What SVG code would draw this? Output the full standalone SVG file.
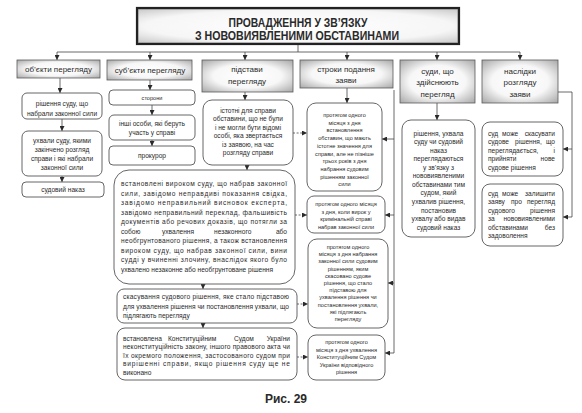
<svg xmlns="http://www.w3.org/2000/svg" width="582" height="413" viewBox="0 0 582 413">
<defs>
<radialGradient id="hg" cx="0.5" cy="0.5" r="0.75">
<stop offset="0" stop-color="#ffffff"/>
<stop offset="0.5" stop-color="#f7f7f7"/>
<stop offset="1" stop-color="#9c9c9c"/>
</radialGradient>
<radialGradient id="tg" cx="0.5" cy="0.5" r="0.8">
<stop offset="0" stop-color="#ffffff"/>
<stop offset="0.6" stop-color="#f6f6f6"/>
<stop offset="1" stop-color="#b4b4b4"/>
</radialGradient>
<marker id="ah" viewBox="0 0 6 6" refX="6" refY="3" markerWidth="5" markerHeight="5" orient="auto" markerUnits="userSpaceOnUse">
<path d="M0,0L6,3L0,6z" fill="#2a2a2a"/>
</marker>
</defs>
<style>
text{font-family:"Liberation Sans","DejaVu Sans",sans-serif;fill:#2a2a2a}
.ti{font-size:12.5px;font-weight:bold;text-anchor:middle}
.h{font-size:8px;text-anchor:middle}
.t{font-size:6.6px}
.c{text-anchor:middle}
.e{text-anchor:end}
.s{font-size:5.6px;text-anchor:middle}
.hd{fill:url(#hg);stroke:#5a5a5a;stroke-width:0.8}
.bx{fill:#fff;stroke:#555;stroke-width:0.9}
.ln{fill:none;stroke:#444;stroke-width:0.8}
.ar{fill:none;stroke:#444;stroke-width:0.8;marker-end:url(#ah)}
.da{fill:none;stroke:#444;stroke-width:0.8;stroke-dasharray:2,1.6;marker-end:url(#ah)}
.cap{font-size:12px;font-weight:bold;text-anchor:middle}
</style>
<rect width="582" height="413" fill="#fff"/>

<g id="connectors">
<path class="ln" d="M298,44V52M57,52H520"/>
<path class="ar" d="M57,52V60"/>
<path class="ar" d="M150,52V60"/>
<path class="ar" d="M245,52V60"/>
<path class="ar" d="M347,52V60"/>
<path class="ar" d="M437,52V60"/>
<path class="ar" d="M520,52V60"/>
<path class="ar" d="M60,78V93"/>
<path class="ar" d="M62,119V131"/>
<path class="ar" d="M62,176V182"/>
<path class="ar" d="M150,80V90"/>
<path class="ar" d="M152,105V115"/>
<path class="ar" d="M152,140V146"/>
<path class="ar" d="M245,92V100"/>
<path class="ar" d="M247,165V170"/>
<path class="ar" d="M203,284V289"/>
<path class="ar" d="M203,323V328"/>
<path class="ar" d="M347,88V103"/>
<path class="ar" d="M437,103V120"/>
<path class="da" d="M293,133H307"/>
<path class="da" d="M295,215H307"/>
<path class="da" d="M297,304H308"/>
<path class="da" d="M297,357H308"/>
<path class="ln" d="M394,90V353"/>
<path class="ar" d="M394,139H382"/>
<path class="ar" d="M394,215H385"/>
<path class="ar" d="M394,283H388"/>
<path class="ar" d="M394,353H385"/>
<path class="ln" d="M558,92H572V217"/>
<path class="ar" d="M572,149H563"/>
<path class="ar" d="M572,217H563"/>
</g>

<g id="title">
<rect x="138" y="9" width="320" height="34" fill="url(#tg)" stroke="#9a9a9a" stroke-width="1"/>
<rect x="137" y="8" width="322" height="36" fill="none" stroke="#222" stroke-width="2.2"/>
<text class="ti" x="298" y="26.5" textLength="139" lengthAdjust="spacingAndGlyphs">ПРОВАДЖЕННЯ У ЗВ’ЯЗКУ</text>
<text class="ti" x="297" y="39.8" textLength="204" lengthAdjust="spacingAndGlyphs">З НОВОВИЯВЛЕНИМИ ОБСТАВИНАМИ</text>
</g>

<g id="h-obiekty">
<rect class="hd" x="17" y="60" width="83" height="18"/>
<text class="h" x="58.5" y="72">об’єкти перегляду</text>
</g>
<g id="h-subiekty">
<rect class="hd" x="107" y="60" width="85" height="20"/>
<text class="h" x="150" y="73">суб’єкти перегляду</text>
</g>
<g id="h-pidstavy">
<rect class="hd" x="202" y="60" width="91" height="32"/>
<text class="h" x="247" y="72">підстави</text>
<text class="h" x="247" y="84">перегляду</text>
</g>
<g id="h-stroky">
<rect class="hd" x="300" y="60" width="93" height="28"/>
<text class="h" x="346" y="71.5">строки подання</text>
<text class="h" x="346" y="83">заяви</text>
</g>
<g id="h-sudy">
<rect class="hd" x="400" y="60" width="75" height="43"/>
<text class="h" x="437.5" y="73.5">суди, що</text>
<text class="h" x="437.5" y="85">здійснюють</text>
<text class="h" x="437.5" y="96.5">перегляд</text>
</g>
<g id="h-naslidky">
<rect class="hd" x="482" y="60" width="76" height="43"/>
<text class="h" x="520" y="73.5">наслідки</text>
<text class="h" x="520" y="85">розгляду</text>
<text class="h" x="520" y="96.5">заяви</text>
</g>

<g id="o1">
<rect class="bx" x="22" y="93" width="80" height="26" rx="5"/>
<text class="t c" x="62" y="106">рішення суду, що</text>
<text class="t c" x="62" y="115.5">набрали законної сили</text>
</g>
<g id="o2">
<rect class="bx" x="22" y="131" width="80" height="45" rx="6"/>
<text class="t c" x="62" y="143">ухвали суду, якими</text>
<text class="t c" x="62" y="152">закінчено розгляд</text>
<text class="t c" x="62" y="161">справи і які набрали</text>
<text class="t c" x="62" y="170">законної сили</text>
</g>
<g id="o3">
<rect class="bx" x="22" y="182" width="82" height="15" rx="4"/>
<text class="t c" x="63" y="192">судовий наказ</text>
</g>

<g id="s1">
<rect class="bx" x="109" y="90" width="86" height="15" rx="4"/>
<text class="s" x="152" y="99.5">сторони</text>
</g>
<g id="s2">
<rect class="bx" x="109" y="115" width="86" height="25" rx="5"/>
<text class="t c" x="152" y="126">інші особи, які беруть</text>
<text class="t c" x="152" y="135">участь у справі</text>
</g>
<g id="s3">
<rect class="bx" x="109" y="146" width="86" height="19" rx="4"/>
<text class="t c" x="152" y="158">прокурор</text>
</g>

<g id="p1">
<rect class="bx" x="203" y="100" width="90" height="65" rx="9"/>
<text class="t c" x="248" y="112.5">істотні для справи</text>
<text class="t c" x="248" y="121">обставини, що не були</text>
<text class="t c" x="248" y="129.5">і не могли бути відомі</text>
<text class="t c" x="248" y="138">особі, яка звертається</text>
<text class="t c" x="248" y="146.5">із заявою, на час</text>
<text class="t c" x="248" y="155">розгляду справи</text>
</g>
<g id="p2">
<rect class="bx" x="114" y="170" width="181" height="114" rx="15"/>
<text class="t" x="121" y="186" textLength="166">встановлені вироком суду, що набрав законної</text>
<text class="t" x="121" y="195.5" textLength="166">сили, завідомо неправдиві показання свідка,</text>
<text class="t" x="121" y="205" textLength="166">завідомо неправильний висновок експерта,</text>
<text class="t" x="121" y="214.5" textLength="166">завідомо неправильний переклад, фальшивість</text>
<text class="t" x="121" y="224" textLength="166">документів або речових доказів, що потягли за</text>
<text class="t" x="121" y="233.5">собою</text>
<text class="t" x="162" y="233.5">ухвалення</text>
<text class="t" x="214" y="233.5">незаконного</text>
<text class="t e" x="287" y="233.5">або</text>
<text class="t" x="121" y="243" textLength="166">необгрунтованого рішення, а також встановлення</text>
<text class="t" x="121" y="252.5" textLength="166">вироком суду, що набрав законної сили, вини</text>
<text class="t" x="121" y="262" textLength="166">судді у вчиненні злочину, внаслідок якого було</text>
<text class="t" x="121" y="271.5">ухвалено незаконне або необгрунтоване рішення</text>
</g>
<g id="p3">
<rect class="bx" x="117" y="289" width="180" height="34" rx="7"/>
<text class="t" x="123" y="299" textLength="166">скасування судового рішення, яке стало підставою</text>
<text class="t" x="123" y="308.5" textLength="166">для ухвалення рішення чи постановлення ухвали, що</text>
<text class="t" x="123" y="317.5">підлягають перегляду</text>
</g>
<g id="p4">
<rect class="bx" x="117" y="328" width="180" height="52" rx="8"/>
<text class="t" x="123" y="340.5">встановлена</text>
<text class="t" x="168" y="340.5">Конституційним</text>
<text class="t" x="234" y="340.5">Судом</text>
<text class="t e" x="290" y="340.5">України</text>
<text class="t" x="123" y="349" textLength="167">неконституційність закону, іншого правового акта чи</text>
<text class="t" x="123" y="357.5" textLength="167">їх окремого положення, застосованого судом при</text>
<text class="t" x="123" y="366" textLength="167">вирішенні справи, якщо рішення суду ще не</text>
<text class="t" x="123" y="374.5">виконано</text>
</g>

<g id="k1">
<rect class="bx" x="307" y="103" width="75" height="88" rx="9"/>
<text class="s" x="344.5" y="117">протягом одного</text>
<text class="s" x="344.5" y="124.7">місяця з дня</text>
<text class="s" x="344.5" y="132.4">встановлення</text>
<text class="s" x="344.5" y="140.1">обставин, що мають</text>
<text class="s" x="344.5" y="147.8">істотне значення для</text>
<text class="s" x="344.5" y="155.5">справи, але не пізніше</text>
<text class="s" x="344.5" y="163.2">трьох років з дня</text>
<text class="s" x="344.5" y="170.9">набрання судовим</text>
<text class="s" x="344.5" y="178.6">рішенням законної</text>
<text class="s" x="344.5" y="186.3">сили</text>
</g>
<g id="k2">
<rect class="bx" x="307" y="196" width="78" height="37" rx="7"/>
<text class="s" x="346" y="206">протягом одного місяця</text>
<text class="s" x="346" y="213.5">з дня, коли вирок у</text>
<text class="s" x="346" y="221">кримінальній справі</text>
<text class="s" x="346" y="228.5">набрав законної сили</text>
</g>
<g id="k3">
<rect class="bx" x="308" y="239" width="80" height="89" rx="9"/>
<text class="s" x="348" y="249">протягом одного</text>
<text class="s" x="348" y="256.2">місяця з дня набрання</text>
<text class="s" x="348" y="263.4">законної сили судовим</text>
<text class="s" x="348" y="270.6">рішенням, яким</text>
<text class="s" x="348" y="277.8">скасовано судове</text>
<text class="s" x="348" y="285">рішення, що стало</text>
<text class="s" x="348" y="292.2">підставою для</text>
<text class="s" x="348" y="299.4">ухвалення рішення чи</text>
<text class="s" x="348" y="306.6">постановлення ухвали,</text>
<text class="s" x="348" y="313.8">які підлягають</text>
<text class="s" x="348" y="321">перегляду</text>
</g>
<g id="k4">
<rect class="bx" x="308" y="335" width="77" height="45" rx="8"/>
<text class="s" x="346.5" y="344">протягом одного</text>
<text class="s" x="346.5" y="351.5">місяця з дня ухвалення</text>
<text class="s" x="346.5" y="359">Конституційним Судом</text>
<text class="s" x="346.5" y="366.5">України відповідного</text>
<text class="s" x="346.5" y="374">рішення</text>
</g>

<g id="d1">
<rect class="bx" x="402" y="120" width="73" height="117" rx="9"/>
<text class="t c" x="438.5" y="135.5">рішення, ухвала</text>
<text class="t c" x="438.5" y="144">суду чи судовий</text>
<text class="t c" x="438.5" y="152.6">наказ</text>
<text class="t c" x="438.5" y="161.2">переглядаються</text>
<text class="t c" x="438.5" y="169.7">у зв’язку з</text>
<text class="t c" x="438.5" y="178.3">нововиявленими</text>
<text class="t c" x="438.5" y="186.8">обставинами тим</text>
<text class="t c" x="438.5" y="195.4">судом, який</text>
<text class="t c" x="438.5" y="203.9">ухвалив рішення,</text>
<text class="t c" x="438.5" y="212.5">постановив</text>
<text class="t c" x="438.5" y="221">ухвалу або видав</text>
<text class="t c" x="438.5" y="229.5">судовий наказ</text>
</g>

<g id="n1">
<rect class="bx" x="482" y="122" width="81" height="54" rx="8"/>
<text class="t" x="488" y="135.5">суд</text>
<text class="t" x="502" y="135.5">може</text>
<text class="t e" x="555" y="135.5">скасувати</text>
<text class="t" x="488" y="144">судове</text>
<text class="t" x="515" y="144">рішення,</text>
<text class="t e" x="555" y="144">що</text>
<text class="t" x="488" y="152.5">переглядається,</text>
<text class="t e" x="555" y="152.5">і</text>
<text class="t" x="488" y="161">прийняти</text>
<text class="t e" x="555" y="161">нове</text>
<text class="t" x="488" y="169.5">судове рішення</text>
</g>
<g id="n2">
<rect class="bx" x="482" y="184" width="81" height="62" rx="8"/>
<text class="t" x="488" y="195.5">суд</text>
<text class="t" x="502" y="195.5">може</text>
<text class="t e" x="555" y="195.5">залишити</text>
<text class="t" x="488" y="204">заяву</text>
<text class="t" x="511" y="204">про</text>
<text class="t e" x="555" y="204">перегляд</text>
<text class="t" x="488" y="212.5">судового</text>
<text class="t e" x="555" y="212.5">рішення</text>
<text class="t" x="488" y="221">за</text>
<text class="t e" x="555" y="221">нововиявленими</text>
<text class="t" x="488" y="229.5">обставинами</text>
<text class="t e" x="555" y="229.5">без</text>
<text class="t" x="488" y="238">задоволення</text>
</g>

<text class="cap" x="286" y="403">Рис. 29</text>
</svg>
